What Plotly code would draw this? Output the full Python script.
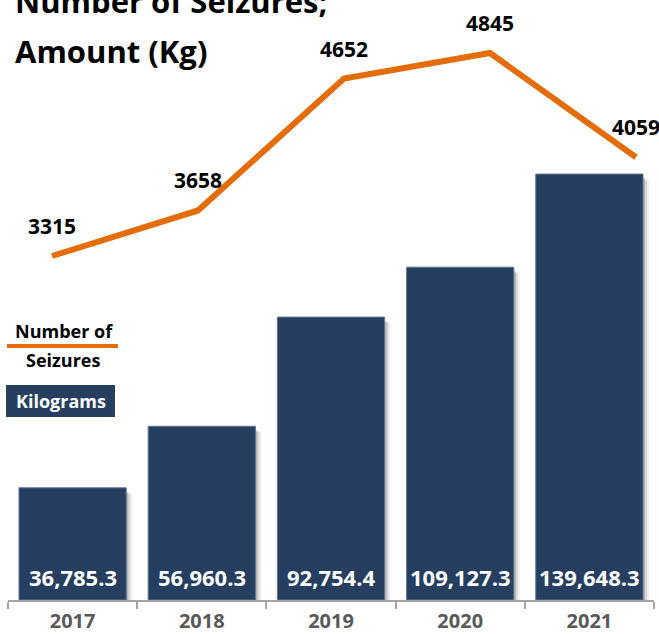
import plotly.graph_objects as go

# Annual seizure statistics
years = ["2017", "2018", "2019", "2020", "2021"]
kilograms = [36785.3, 56960.3, 92754.4, 109127.3, 139648.3]
seizures = [3315, 3658, 4652, 4845, 4059]

W, H = 659, 634
PLOT_H = 600  # plot area height in px (bottom margin holds the year labels)
X0, X1 = 8, 654  # horizontal extent of the category axis in px
CAT_PX = (X1 - X0) / len(years)  # px per category
BAR_W = 0.83

NAVY = "#263F60"
ORANGE = "#E46C0A"
FONT = "Open Sans"


def px(x):
    return x / W


def py(y):
    return 1 - y / PLOT_H


fig = go.Figure()

# soft drop shadow to the right of each bar
for shift, alpha, drop in [(6, 0.06, 6), (4, 0.10, 5), (2, 0.16, 4)]:
    fig.add_trace(go.Bar(
        x=years, y=[v - drop / 0.00305 for v in kilograms],
        width=BAR_W, offset=-BAR_W / 2 + shift / CAT_PX,
        marker=dict(color=f"rgba(0,0,0,{alpha})", line=dict(width=0)),
        hoverinfo="skip", xaxis="x", yaxis="y",
    ))

# Amount seized (kg) as bars
fig.add_trace(go.Bar(
    x=years, y=kilograms,
    width=BAR_W, offset=-BAR_W / 2,
    marker=dict(color=NAVY, line=dict(width=1, color="#5F7592")),
    hoverinfo="skip",
    xaxis="x", yaxis="y",
))

# Number of seizures as a line on its own axes
fig.add_trace(go.Scatter(
    x=list(range(len(years))), y=seizures,
    mode="lines",
    line=dict(color=ORANGE, width=6),
    cliponaxis=False,
    hoverinfo="skip",
    xaxis="x2", yaxis="y2",
))

annotations = []
# Seizure counts above the line
for i, n in enumerate(seizures):
    annotations.append(dict(
        x=i, y=n, xref="x2", yref="y2", xanchor="center", yanchor="middle",
        text=f"<b>{n}</b>", showarrow=False, yshift=30,
        font=dict(family=FONT, size=21, color="black"),
    ))

# Kilogram amounts at the foot of each bar (category index positions)
for i, v in enumerate(kilograms):
    annotations.append(dict(
        x=i, y=0, xref="x", yref="y", xanchor="center", yanchor="middle",
        text=f"<b>{v:,.1f}</b>", showarrow=False, yshift=23,
        font=dict(family=FONT, size=22, color="white"),
    ))

# Title
annotations.append(dict(
    x=px(13), y=py(1), xref="paper", yref="paper", xanchor="left", yanchor="middle",
    text="<b>Number of Seizures;</b>", showarrow=False,
    font=dict(family=FONT, size=31, color="black"),
))
annotations.append(dict(
    x=px(13), y=py(51), xref="paper", yref="paper", xanchor="left", yanchor="middle",
    text="<b>Amount (Kg)</b>", showarrow=False,
    font=dict(family=FONT, size=31, color="black"),
))

# Legend drawn by hand
annotations += [
    dict(x=px(64), y=py(331), xref="paper", yref="paper", xanchor="center", yanchor="middle",
         text="<b>Number of</b>", showarrow=False, font=dict(family=FONT, size=18, color="black")),
    dict(x=px(63), y=py(360), xref="paper", yref="paper", xanchor="center", yanchor="middle",
         text="<b>Seizures</b>", showarrow=False, font=dict(family=FONT, size=18, color="black")),
    dict(x=px(61), y=py(401), xref="paper", yref="paper", xanchor="center", yanchor="middle",
         text="<b>Kilograms</b>", showarrow=False, font=dict(family=FONT, size=18, color="white")),
]

shapes = [
    dict(type="line", xref="paper", yref="paper", x0=px(7), x1=px(118), y0=py(346), y1=py(346),
         line=dict(color=ORANGE, width=4)),
    dict(type="rect", xref="paper", yref="paper", x0=px(6), x1=px(115), y0=py(385), y1=py(417),
         fillcolor=NAVY, line=dict(width=0), layer="below"),
]

# line axis: first point at 52 px, 146 px between years
LX0, LSTEP = 52, 146
x2_range = [-(LX0 - X0) / LSTEP, (X1 - LX0) / LSTEP]

fig.update_layout(
    width=W, height=H,
    margin=dict(l=0, r=0, t=0, b=H - PLOT_H, autoexpand=False),
    plot_bgcolor="white", paper_bgcolor="white",
    showlegend=False,
    barmode="overlay",
    xaxis=dict(
        domain=[px(X0), px(X1)], type="category", range=[-0.5, 4.5],
        showline=True, linecolor="#A6A6A6", linewidth=1.5,
        ticks="outside", tickson="boundaries", ticklen=7, tickcolor="#A6A6A6", tickwidth=1.5,
        tickfont=dict(family=FONT, size=20, color="#595959", weight="bold"),
        ticklabelstandoff=2, tickangle=0, automargin=False,
        showgrid=False, zeroline=False,
    ),
    yaxis=dict(range=[0, PLOT_H / 0.00305], visible=False, showgrid=False, zeroline=False),
    xaxis2=dict(
        overlaying="x", type="linear",
        range=x2_range, visible=False, showgrid=False, zeroline=False,
    ),
    yaxis2=dict(
        overlaying="y", range=[3315 - (PLOT_H - 256) / 0.1327, 3315 + 256 / 0.1327],
        visible=False, showgrid=False, zeroline=False,
    ),
    annotations=annotations,
    shapes=shapes,
)

fig.write_html("out.html")
